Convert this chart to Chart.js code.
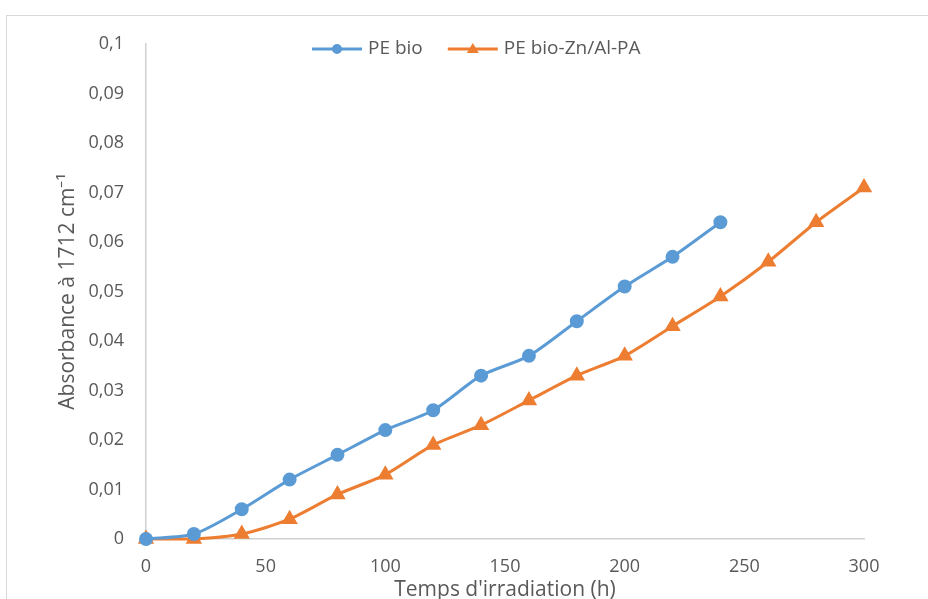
<!DOCTYPE html>
<html>
<head>
<meta charset="utf-8">
<script src="https://cdn.jsdelivr.net/npm/chart.js@4.4.0/dist/chart.umd.min.js"></script>
<style>
  html, body { margin: 0; padding: 0; background: #fff; overflow: hidden; }
  #frame { position: absolute; left: 6px; top: 15px; width: 960px; height: 640px; border: 1px solid #d9d9d9; }
  #wrap { position: absolute; left: 0; top: 0; width: 928px; height: 620px; }
</style>
</head>
<body>
<div id="frame"></div>
<div id="wrap"><canvas id="chart" width="928" height="620"></canvas></div>
<script>
    "use strict";

    // Data
    var timesBio = [0, 20, 40, 60, 80, 100, 120, 140, 160, 180, 200, 220, 240];
    var absBio = [0, 0.001, 0.006, 0.012, 0.017, 0.022, 0.026, 0.033, 0.037, 0.044, 0.051, 0.057, 0.064];
    var timesZn = [0, 20, 40, 60, 80, 100, 120, 140, 160, 180, 200, 220, 240, 260, 280, 300];
    var absZn = [0, 0, 0.001, 0.004, 0.009, 0.013, 0.019, 0.023, 0.028, 0.033, 0.037, 0.043, 0.049, 0.056, 0.064, 0.071];
    var seriesLabels = ["PE bio", "PE bio-Zn/Al-PA"];

    var textColor = "#595959";
    var fontFamily = "'Open Sans', sans-serif";

    function toPoints(xs, ys) {
        return xs.map(function (x, i) { return {x: x, y: ys[i]}; });
    }

    // Excel-like legend: line + marker, drawn inside the top of the plot
    var legendPlugin = {
        id: "excelLegend",
        afterDraw: function (chart) {
            var ctx = chart.ctx;
            var y = 49;
            var lineLen = 50, gap = 6, itemGap = 25;
            ctx.save();
            ctx.font = "19px " + fontFamily;
            var x = 312;
            chart.data.datasets.forEach(function (ds) {
                ctx.strokeStyle = ds.borderColor;
                ctx.lineWidth = 3;
                ctx.beginPath();
                ctx.moveTo(x, y);
                ctx.lineTo(x + lineLen, y);
                ctx.stroke();
                ctx.fillStyle = ds.borderColor;
                var cx = x + lineLen / 2;
                if (ds.pointStyle === "triangle") {
                    ctx.beginPath();
                    ctx.moveTo(cx, y - 6);
                    ctx.lineTo(cx + 6, y + 4);
                    ctx.lineTo(cx - 6, y + 4);
                    ctx.closePath();
                    ctx.fill();
                } else {
                    ctx.beginPath();
                    ctx.arc(cx, y, 5, 0, Math.PI * 2);
                    ctx.fill();
                }
                ctx.fillStyle = textColor;
                ctx.textBaseline = "middle";
                ctx.textAlign = "left";
                ctx.fillText(ds.label, x + lineLen + gap, y);
                x += lineLen + gap + ctx.measureText(ds.label).width + itemGap;
            });
            ctx.restore();
        }
    };

    var ctx1 = document.getElementById("chart").getContext("2d");
    var myChart = new Chart(ctx1, {
        type: "line",
        data: {
            datasets: [{
                    label: seriesLabels[0],
                    data: toPoints(timesBio, absBio),
                    borderColor: "#5b9bd5",
                    backgroundColor: "#5b9bd5",
                    borderWidth: 3,
                    pointStyle: "circle",
                    pointRadius: 5.5,
                    tension: 0.25,
                    clip: false
                },
                {
                    label: seriesLabels[1],
                    data: toPoints(timesZn, absZn),
                    borderColor: "#ed7d31",
                    backgroundColor: "#ed7d31",
                    borderWidth: 3,
                    pointStyle: "triangle",
                    pointRadius: 6.5,
                    tension: 0.25,
                    clip: false
                }
            ]
        },
        options: {
            responsive: false,
            animation: false,
            layout: {
                padding: {left: 50, top: 44, right: 64, bottom: 0}
            },
            plugins: {
                legend: {display: false},
                tooltip: {enabled: false}
            },
            scales: {
                x: {
                    type: "linear",
                    min: 0,
                    max: 300,
                    grid: {display: false, drawTicks: false},
                    border: {display: true, color: "#d0d0d0", width: 1.5},
                    ticks: {
                        stepSize: 50,
                        padding: 17,
                        color: textColor,
                        font: {family: fontFamily, size: 18}
                    },
                    title: {
                        display: true,
                        text: "Temps d'irradiation (h)",
                        color: textColor,
                        font: {family: fontFamily, size: 21},
                        padding: {top: 0, bottom: 17}
                    },
                    afterFit: function (scale) { scale.height = 81; }
                },
                y: {
                    min: 0,
                    max: 0.1,
                    grid: {display: false, drawTicks: false},
                    border: {display: true, color: "#d0d0d0", width: 1.5},
                    ticks: {
                        stepSize: 0.01,
                        padding: 22,
                        color: textColor,
                        font: {family: fontFamily, size: 18},
                        callback: function (v) {
                            return String(Math.round(v * 100) / 100).replace(".", ",");
                        }
                    },
                    title: {
                        display: true,
                        text: "Absorbance à 1712 cm\u207B\u00B9",
                        color: textColor,
                        font: {family: fontFamily, size: 21},
                        padding: {top: 5, bottom: 0}
                    },
                    afterFit: function (scale) { scale.width = 96; }
                }
            }
        },
        plugins: [legendPlugin]
    });
</script>
</body>
</html>
